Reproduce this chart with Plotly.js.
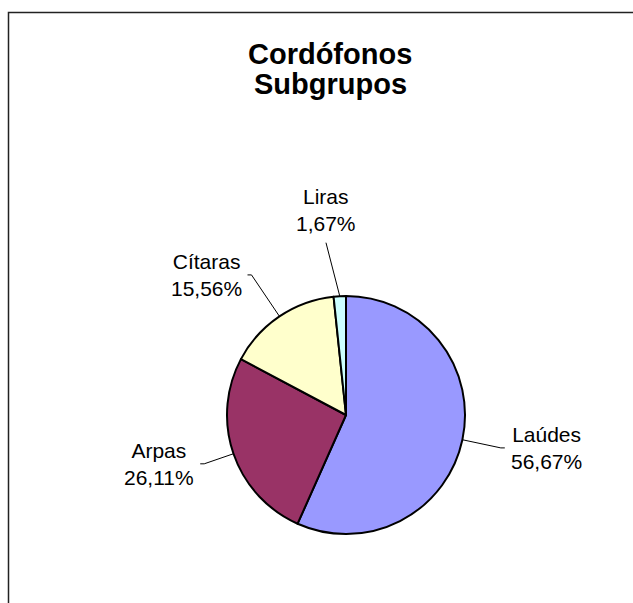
<!DOCTYPE html>
<html>
<head>
<meta charset="utf-8">
<script src="https://cdn.plot.ly/plotly-3.0.1.min.js"></script>
<style>
  html, body { margin: 0; padding: 0; background: #fff; }
  #chart { width: 633px; height: 603px; }
</style>
</head>
<body>
<div id="chart"></div>
<script>
// ---- data ----
const categories = ['Laúdes', 'Arpas', 'Cítaras', 'Liras'];
const counts = [102, 47, 28, 3];
const sliceColors = ['#9999FF', '#993366', '#FFFFCC', '#CCFFFF'];
const titleLines = ['Cordófonos', 'Subgrupos'];

// ---- layout helpers (pixels -> paper) ----
const W = 633, H = 603;
const cx = 346, cy = 415, R = 119;
const labelRadius = [1.33, 1.26, 1.42, 1.45]; // leader length factors
const labelNudgeX = [0, 0, 0, -11];           // horizontal nudge of leader end
const px = x => x / W;
const py = y => 1 - y / H;

const total = counts.reduce((a, b) => a + b, 0);
const pctText = counts.map(c => (c / total * 100).toFixed(2).replace('.', ',') + '%');

const annotations = [];
const shapes = [];

// frame around chart area
shapes.push({type: 'rect', xref: 'paper', yref: 'paper',
  x0: px(8.5), x1: px(660), y0: py(640), y1: py(12.5),
  line: {color: '#222', width: 1.5}, fillcolor: 'rgba(0,0,0,0)'});

// title (two lines, tight Excel-like spacing)
titleLines.forEach((t, i) => {
  annotations.push({xref: 'paper', yref: 'paper', x: px(330), y: py(54 + 30 * i),
    xanchor: 'center', yanchor: 'middle', showarrow: false, text: '<b>' + t + '</b>',
    font: {family: 'Liberation Sans, Arial, sans-serif', size: 29, color: '#000'}});
});

// data labels with leader lines, computed from slice angles
let cum = 0;
counts.forEach((c, i) => {
  const mid = (cum + c / 2) / total * 2 * Math.PI; // clockwise from top
  cum += c;
  const dx = Math.sin(mid), dy = -Math.cos(mid);
  const sx = cx + R * dx, sy = cy + R * dy;
  const k = labelRadius[i];
  const ex = cx + k * R * dx + labelNudgeX[i], ey = cy + k * R * dy;
  const txt = categories[i] + '<br>' + pctText[i];
  const font = {family: 'Liberation Sans, Arial, sans-serif', size: 21, color: '#000'};
  shapes.push({type: 'line', xref: 'paper', yref: 'paper',
    x0: px(sx), y0: py(sy), x1: px(ex), y1: py(ey), line: {color: '#000', width: 1}});
  if (Math.abs(dx) < 0.3) {
    // near the top: text centred above leader
    annotations.push({xref: 'paper', yref: 'paper', x: px(ex), y: py(ey - 6),
      xanchor: 'center', yanchor: 'bottom', align: 'center', showarrow: false, text: txt, font});
  } else {
    const dir = dx > 0 ? 1 : -1;
    const tx = ex + dir * 4;
    shapes.push({type: 'line', xref: 'paper', yref: 'paper',
      x0: px(ex), y0: py(ey), x1: px(tx), y1: py(ey), line: {color: '#000', width: 1}});
    annotations.push({xref: 'paper', yref: 'paper', x: px(tx + dir * 4), y: py(ey),
      xanchor: dir > 0 ? 'left' : 'right', yanchor: 'middle', align: 'center',
      showarrow: false, text: txt, font});
  }
});

const trace = {
  type: 'pie',
  labels: categories,
  values: counts,
  sort: false,
  direction: 'clockwise',
  rotation: 0,
  textinfo: 'none',
  hoverinfo: 'label+percent',
  marker: {colors: sliceColors, line: {color: '#000', width: 2}},
  domain: {x: [px(cx - R), px(cx + R)], y: [py(cy + R), py(cy - R)]},
  showlegend: false
};

const layout = {
  width: W, height: H,
  margin: {l: 0, r: 0, t: 0, b: 0},
  paper_bgcolor: '#fff',
  showlegend: false,
  annotations, shapes
};

Plotly.newPlot('chart', [trace], layout, {displayModeBar: false, staticPlot: true});
</script>
</body>
</html>
